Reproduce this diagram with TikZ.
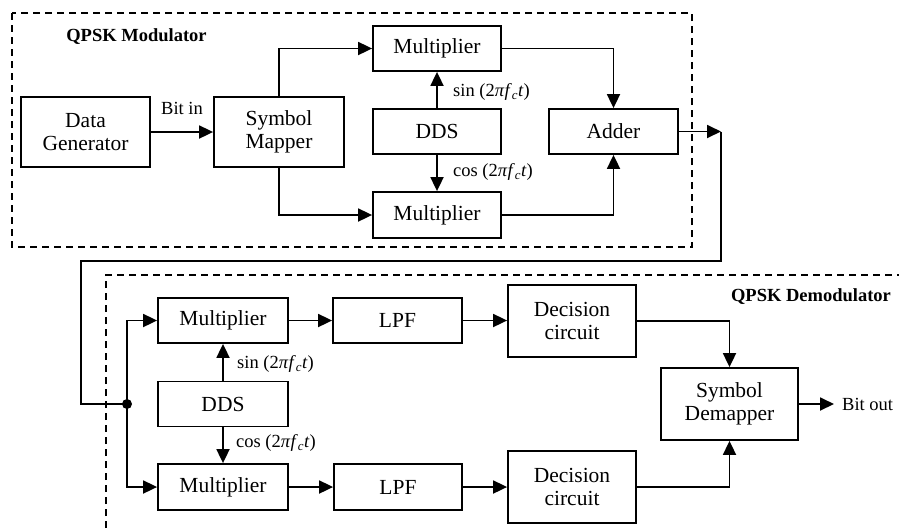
\documentclass[tikz,border=0pt]{standalone}
\usepackage{fontspec}
\setmainfont{Liberation Serif}
\usetikzlibrary{arrows.meta}
\tikzset{
  blk/.style={draw, line width=1.8pt, align=center, inner sep=0pt,
    font=\fontsize{21.5}{23.5}\selectfont},
  arr/.style={line width=1.8pt, -{Triangle[length=14pt,width=13pt]}},
  wire/.style={line width=1.8pt},
  lbl/.style={font=\fontsize{18.5}{21}\selectfont, inner sep=0pt},
  ttl/.style={font=\fontsize{18.5}{21}\selectfont\bfseries, inner sep=0pt},
  dbox/.style={line width=1.5pt, dash pattern=on 7pt off 5pt},
}
\newcommand{\wt}{\textit{π}\textit{f}\textsubscript{\textit{c}}\textit{t}}
\begin{document}
\begin{tikzpicture}[x=1pt,y=-1pt]
\clip (0,0) rectangle (899,531);
\fill[white] (0,0) rectangle (899,531);
% dashed frames
\draw[dbox] (12,13) rectangle (692,247);
\draw[dbox] (106,540) -- (106,275) -- (905,275);
\node[ttl] (tmod) at (136.5,37) {QPSK Modulator};
\node[ttl] (tdem) at (811,297) {QPSK Demodulator};
% modulator blocks
\node[blk, minimum width=129pt, minimum height=70pt] (dg) at (85.5,132) {Data\\Generator};
\node[blk, minimum width=130pt, minimum height=70pt] (sm) at (279,132) {Symbol\\Mapper};
\node[blk, minimum width=128pt, minimum height=45pt] (m1) at (437,48.5) {Multiplier};
\node[blk, minimum width=128pt, minimum height=45pt] (dds1) at (437,131.5) {DDS};
\node[blk, minimum width=128pt, minimum height=46pt] (m2) at (437,215) {Multiplier};
\node[blk, minimum width=129pt, minimum height=45pt] (add) at (613.5,131.5) {Adder};
% demodulator blocks
\node[blk, minimum width=130pt, minimum height=45pt] (dm1) at (223,320.5) {Multiplier};
\node[blk, minimum width=129pt, minimum height=45pt] (lpf1) at (397.5,320.5) {LPF};
\node[blk, minimum width=128pt, minimum height=72pt] (dc1) at (572,321) {Decision\\circuit};
\node[blk, minimum width=130pt, minimum height=45pt] (dds2) at (223,404) {DDS};
\node[blk, minimum width=130pt, minimum height=46pt] (dm2) at (223,487) {Multiplier};
\node[blk, minimum width=128pt, minimum height=46pt] (lpf2) at (398,487) {LPF};
\node[blk, minimum width=128pt, minimum height=72pt] (dc2) at (572,487) {Decision\\circuit};
\node[blk, minimum width=137pt, minimum height=72pt] (sd) at (729.5,404) {Symbol\\Demapper};
% coordinates
\coordinate (c1) at (721,131.5);
\coordinate (c2) at (721,261);
\coordinate (c3) at (81,261);
\coordinate (c4) at (81,404);
\coordinate (j) at (127,404);
\coordinate (bo) at (834,404);
% labels
\node[lbl] (bitin) at (182,108) {Bit in};
\node[lbl, anchor=west] (s1) at (453,92) {sin (2\wt)};
\node[lbl, anchor=west] (k1) at (453,172) {cos (2\wt)};
\node[lbl, anchor=west] (s2) at (237,364) {sin (2\wt)};
\node[lbl, anchor=west] (k2) at (236,443) {cos (2\wt)};
\node[lbl, anchor=west] (bitout) at (842,404) {Bit out};
% modulator connections
\draw[arr] (dg.east) -- (sm.west);
\draw[arr] (sm.north) |- (m1.west);
\draw[arr] (sm.south) |- (m2.west);
\draw[arr] (dds1.north) -- (m1.south);
\draw[arr] (dds1.south) -- (m2.north);
\draw[arr] (m1.east) -| (add.north);
\draw[arr] (m2.east) -| (add.south);
\draw[arr] (add.east) -- (c1);
\draw[wire] (c1) -- (c2) -- (c3) -- (c4) -- (j);
% demodulator connections
\fill (j) circle (5pt);
\draw[arr] (j) |- (dm1.west);
\draw[arr] (j) |- (dm2.west);
\draw[arr] (dds2.north) -- (dm1.south);
\draw[arr] (dds2.south) -- (dm2.north);
\draw[arr] (dm1.east) -- (lpf1.west);
\draw[arr] (lpf1.east) -- (dc1.west |- lpf1.east);
\draw[arr] (dm2.east) -- (lpf2.west);
\draw[arr] (lpf2.east) -- (dc2.west |- lpf2.east);
\draw[arr] (dc1.east) -| (sd.north);
\draw[arr] (dc2.east) -| (sd.south);
\draw[arr] (sd.east) -- (bo);
\end{tikzpicture}
\end{document}
